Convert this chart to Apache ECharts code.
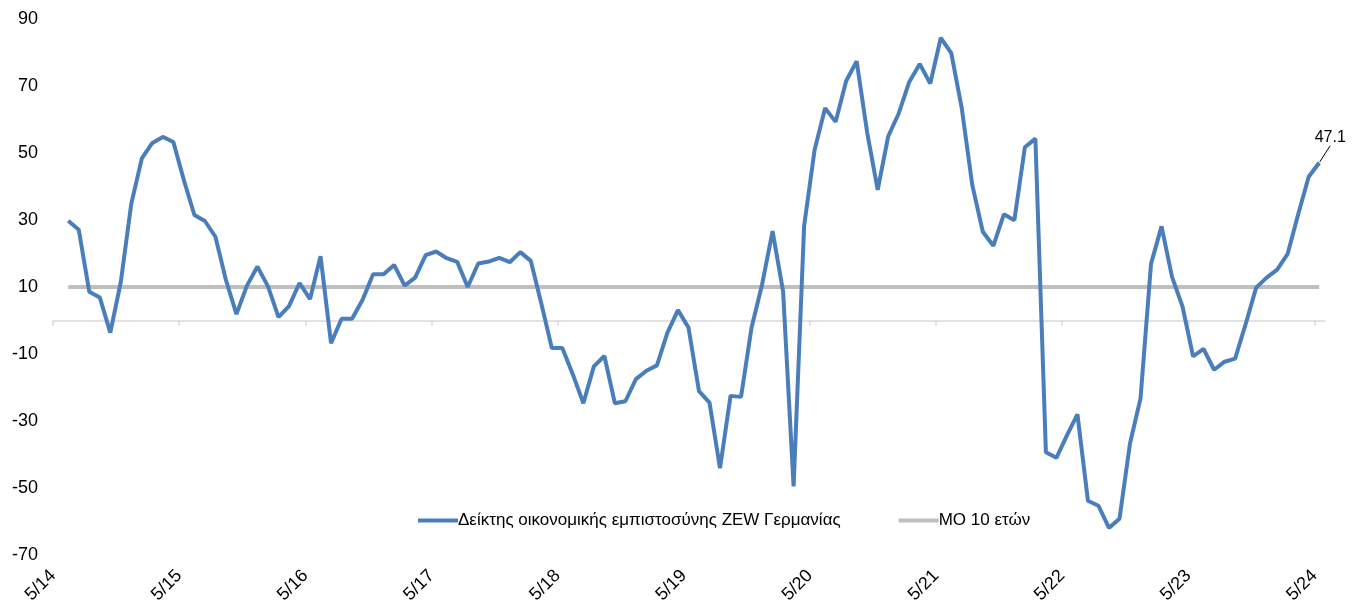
<!DOCTYPE html>
<html><head><meta charset="utf-8">
<script src="https://cdn.jsdelivr.net/npm/echarts@6/dist/echarts.min.js"></script>
<style>html,body{margin:0;padding:0;background:#fff}#c{width:1358px;height:605px}</style>
</head><body><div id="c"></div>
<script>
// Monthly ZEW economic sentiment, June 2014 .. May 2024
const startYear = 2014, startMonth = 6;
const axisStartYear = 2014, axisStartMonth = 5;
const zew = [29.8,27.1,8.6,6.9,-3.6,11.5,34.9,
 48.4,53.0,54.8,53.3,41.9,31.5,29.7,25.0,12.1,1.9,10.4,16.1,
 10.2,1.0,4.3,11.2,6.4,19.2,-6.8,0.5,0.5,6.2,13.8,13.8,
 16.6,10.4,12.8,19.5,20.6,18.6,17.5,10.0,17.0,17.6,18.7,17.4,
 20.4,17.8,5.1,-8.2,-8.2,-16.1,-24.7,-13.7,-10.6,-24.7,-24.1,-17.5,
 -15.0,-13.4,-3.6,3.1,-2.1,-21.1,-24.5,-44.1,-22.5,-22.8,-2.1,10.7,
 26.7,8.7,-49.5,28.2,51.0,63.4,59.3,71.5,77.4,56.1,39.0,55.0,
 61.8,71.2,76.6,70.7,84.4,79.8,63.3,40.4,26.5,22.3,31.7,29.9,
 51.7,54.3,-39.3,-41.0,-34.3,-28.0,-53.8,-55.3,-61.9,-59.2,-36.7,-23.3,
 16.9,28.1,13.0,4.1,-10.7,-8.5,-14.7,-12.3,-11.4,-1.1,9.8,12.8,
 15.2,19.9,31.7,42.9,47.1];
const avg10y = 10;
const tickLabels = ['5/14','5/15','5/16','5/17','5/18','5/19','5/20','5/21','5/22','5/23','5/24'];
const yTicks = [-70,-50,-30,-10,10,30,50,70,90];
const seriesNames = ['Δείκτης οικονομικής εμπιστοσύνης ZEW Γερμανίας','MO 10 ετών'];

// month dates of the observations (mid-month), as months since axis start
const monthPos = zew.map((_, i) => {
  const m = (startYear - axisStartYear) * 12 + (startMonth - axisStartMonth) + i;
  return m + 0.45;
});
const zewData = zew.map((v, i) => [monthPos[i], v]);
const avgData = zew.map((_, i) => [monthPos[i], avg10y]);
const last = zewData[zewData.length - 1];

const tickVals = tickLabels.map((_, i) => i * 12);
const FONT = '"Liberation Sans", Arial, sans-serif';

const chart = echarts.init(document.getElementById('c'));
chart.setOption({
  animation: false,
  grid: {left: 53, right: 33, top: 19, bottom: 50, outerBoundsMode: 'none', containLabel: false},
  legend: {
    left: 413, top: 507, itemWidth: 40, itemHeight: 4, itemGap: 58,
    icon: 'rect',
    textStyle: {fontFamily: FONT, fontSize: 17, color: '#000', padding: [0,0,0,-5]},
    data: seriesNames
  },
  xAxis: {
    type: 'value', min: 0, max: 121, interval: 12,
    axisLine: {show: true, onZero: true, lineStyle: {color: '#d9d9d9', width: 1.5}},
    axisTick: {show: true, length: 5, lineStyle: {color: '#d9d9d9', width: 1.5}, customValues: tickVals},
    splitLine: {show: false},
    axisLabel: {
      customValues: tickVals,
      rotate: 45, margin: 18, fontFamily: FONT, fontSize: 18, color: '#000',
      formatter: v => tickLabels[Math.round(v / 12)] || ''
    }
  },
  yAxis: {
    type: 'value', min: -70, max: 90, interval: 20,
    axisLine: {show: false}, axisTick: {show: false}, splitLine: {show: false},
    axisLabel: {margin: 15, fontFamily: FONT, fontSize: 18, color: '#000',
      formatter: v => (yTicks.indexOf(v) >= 0 ? String(v) : '')}
  },
  series: [
    {
      name: seriesNames[1], type: 'line', data: avgData, showSymbol: false,
      lineStyle: {color: '#bfbfbf', width: 4}, itemStyle: {color: '#bfbfbf'}, z: 2
    },
    {
      name: seriesNames[0], type: 'line', data: zewData, showSymbol: false,
      lineStyle: {color: '#4a7ebb', width: 4}, itemStyle: {color: '#4a7ebb'}, z: 3
    },
    {
      type: 'scatter', data: [last], symbolSize: 2, itemStyle: {color: 'rgba(0,0,0,0)'}, z: 5,
      label: {show: true, position: 'top', distance: 0, formatter: p => String(p.value[1]),
        fontFamily: FONT, fontSize: 16, color: '#000', opacity: 1},
      labelLayout: {dx: 11, dy: -16},
      labelLine: {show: true, lineStyle: {color: '#000', width: 1, opacity: 1}}
    }
  ]
});
</script></body></html>
